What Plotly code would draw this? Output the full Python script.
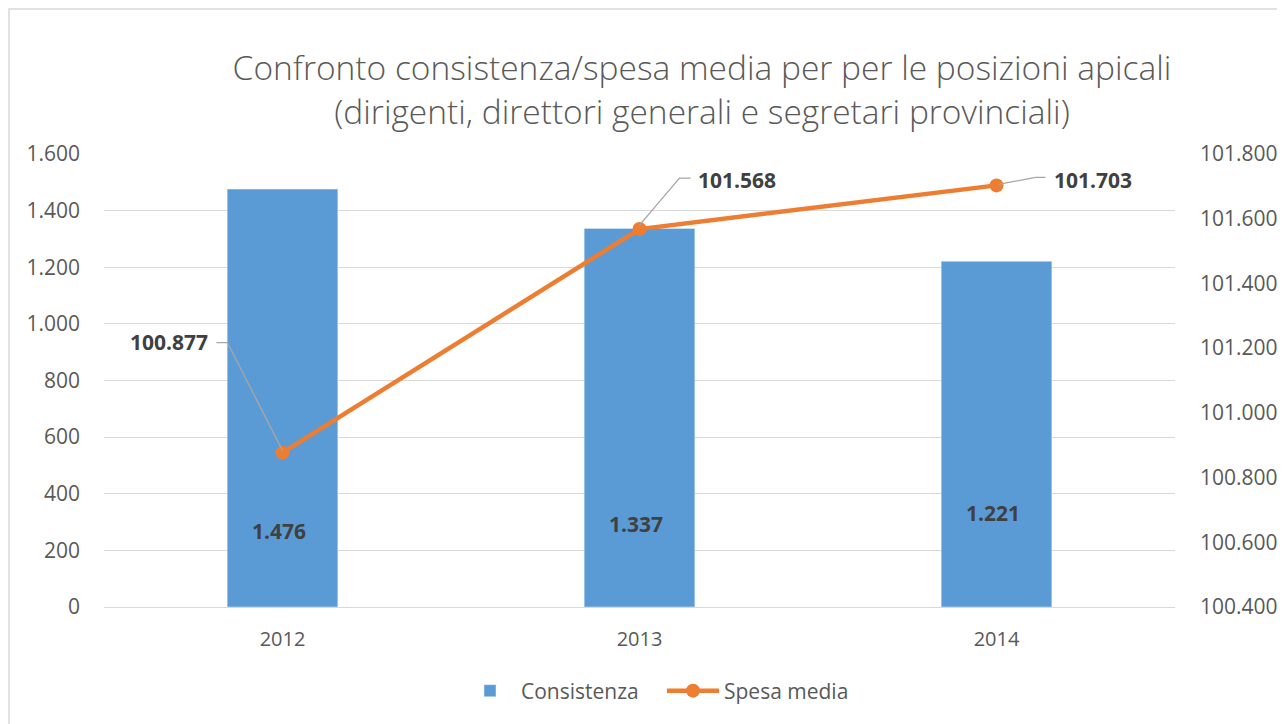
import plotly.graph_objects as go

# ---- data ----
years = ["2012", "2013", "2014"]
consistenza = [1476, 1337, 1221]
spesa_media = [100.877, 101.568, 101.703]
left_ticks = [0, 200, 400, 600, 800, 1000, 1200, 1400, 1600]
right_ticks = [100.4, 100.6, 100.8, 101.0, 101.2, 101.4, 101.6, 101.8]


def it_num(v, dec=0):
    s = f"{v:,.{dec}f}"
    return s.replace(",", "X").replace(".", ",").replace("X", ".")


# ---- styles ----
BLUE = "#5B9BD5"
ORANGE = "#ED7D31"
GRID = "#D9D9D9"
TICK = "#595959"
LABEL = "#404040"
LEADER = "#A6A6A6"
FONT = "Open Sans"

W, H = 1277, 716          # page body has an 8px margin
L, R, T, B = 96, 110, 146, 117
PW = W - L - R
PH = H - T - B

xs = list(range(len(years)))

fig = go.Figure()
fig.add_trace(go.Bar(
    x=xs, y=consistenza, name="Consistenza", marker_color=BLUE,
    width=0.31, yaxis="y"))
fig.add_trace(go.Scatter(
    x=xs, y=spesa_media, name="Spesa media", mode="lines+markers",
    line=dict(color=ORANGE, width=4.5), marker=dict(size=14, color=ORANGE),
    yaxis="y2"))

annotations = []
# bar data labels (placed near the lower part of each bar)
bar_label_y = [268, 293, 332]
for i, v in enumerate(consistenza):
    annotations.append(dict(
        x=xs[i], y=bar_label_y[i], xref="x", yref="y", text=f"<b>{it_num(v)}</b>",
        showarrow=False, xshift=-4, font=dict(family=FONT, size=21, color=LABEL)))

# line data labels with leader lines
label_shift = [(-114, 111), (97, 49), (96, 5)]
leader_paths = [
    "M 0,2 L -55,110 L -66,110",
    "M 0,4 L 40,51 L 51,51",
    "M 2,1 L 39,8 L 49,8",
]
shapes = []
for i, v in enumerate(spesa_media):
    dx, dy = label_shift[i]
    annotations.append(dict(
        x=xs[i], y=v, xref="x", yref="y2", text=f"<b>{v:.3f}</b>",
        showarrow=False, xshift=dx, yshift=dy,
        font=dict(family=FONT, size=21, color=LABEL)))
    shapes.append(dict(
        type="path", xref="x", yref="y2", xsizemode="pixel", ysizemode="pixel",
        xanchor=xs[i], yanchor=v, path=leader_paths[i],
        line=dict(color=LEADER, width=1.3)))

# outer chart frame (figure border)
shapes.append(dict(
    type="rect", xref="paper", yref="paper",
    x0=(-L + 1) / PW, x1=(W - L + 20) / PW,
    y0=(-B - 20) / PH, y1=(PH + T - 1) / PH,
    line=dict(color=GRID, width=1.5), fillcolor="rgba(0,0,0,0)", layer="below"))

fig.update_layout(
    width=W, height=H,
    margin=dict(l=L, r=R, t=T, b=B, autoexpand=False),
    paper_bgcolor="white", plot_bgcolor="white",
    font=dict(family=FONT, color=TICK, size=21),
    title=dict(
        text="Confronto consistenza/spesa media per per le posizioni apicali<br>(dirigenti, direttori generali e segretari provinciali)",
        xref="container", yref="container", x=694 / W, y=1 - 72 / H,
        xanchor="center", yanchor="middle",
        font=dict(family=FONT, size=33.5, color=TICK, weight=300)),
    xaxis=dict(
        range=[-0.5, 2.5], tickvals=xs, ticktext=years, showgrid=False,
        showline=True, linecolor=GRID, linewidth=1.3, ticks="",
        ticklabelstandoff=14, tickfont=dict(size=20, color=TICK), zeroline=False,
        automargin=False),
    yaxis=dict(
        range=[0, 1600], tickvals=left_ticks,
        ticktext=[it_num(t) for t in left_ticks],
        showgrid=True, gridcolor=GRID, gridwidth=1.3, zeroline=False,
        ticks="", ticklabelstandoff=23, tickfont=dict(size=21, color=TICK),
        automargin=False),
    yaxis2=dict(
        range=[100.4, 101.8], overlaying="y", side="right", tickvals=right_ticks,
        ticktext=[f"{t:.3f}" for t in right_ticks],
        showgrid=False, zeroline=False, ticks="", ticklabelstandoff=24,
        tickfont=dict(size=21, color=TICK), automargin=False),
    legend=dict(
        orientation="h", xref="container", yref="container",
        x=654 / W, y=1 - 683 / H, xanchor="center", yanchor="middle",
        font=dict(size=21, color=TICK), traceorder="normal",
        itemwidth=52, entrywidth=136),
    annotations=annotations,
    shapes=shapes,
)

fig.write_html("out.html")
